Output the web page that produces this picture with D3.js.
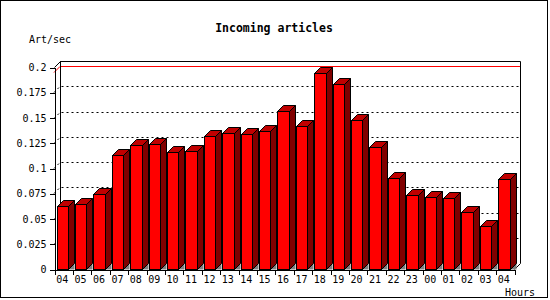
<!DOCTYPE html>
<html>
<head>
<meta charset="utf-8">
<script src="https://cdn.jsdelivr.net/npm/d3@7"></script>
<style>
  html, body { margin: 0; padding: 0; background: #fff; }
  svg { display: block; }
  text { font-family: "DejaVu Sans Mono", "Liberation Mono", monospace; fill: #000; }
</style>
</head>
<body>
<svg id="chart" width="550" height="300"></svg>
<script>
// ---- data ----
const hours = ["04","05","06","07","08","09","10","11","12","13","14","15","16","17","18","19","20","21","22","23","00","01","02","03","04"];
const rates = [0.0627,0.0646,0.0745,0.1127,0.1226,0.1236,0.1157,0.1167,0.1315,0.1345,0.1335,0.1365,0.1560,0.1414,0.1938,0.1832,0.1473,0.1206,0.0903,0.0732,0.0712,0.0703,0.0564,0.0426,0.0890];
const yTickValues = [0,0.025,0.05,0.075,0.1,0.125,0.15,0.175,0.2];
const yTickLabels = ["0","0.025","0.05","0.075","0.1","0.125","0.15","0.175","0.2"];
const limitValue = [0.195];
const chartTitle = "Incoming articles";
const yTitle = "Art/sec";
const xTitle = "Hours";

(function () {
// ---- layout ----
const svg = d3.select("#chart");
const pLeft = 54, pRight = 514, pTop = 67, pBottom = 269, depth = 6;
const idx = d3.range(hours.length);

const x = d3.scaleBand().domain(idx).range([pLeft, pRight]).paddingInner(0).paddingOuter(0);
const xLin = d3.scaleLinear().domain([0, hours.length]).range([pLeft, pRight]);
const y = d3.scaleLinear().domain([0, 0.2]).range([pBottom, pTop]);

svg.append("rect").attr("x",0.5).attr("y",0.5).attr("width",547).attr("height",297)
  .attr("fill","#fff").attr("stroke","#000");

const bx0 = pLeft + depth, bx1 = pRight + depth;
const byTop = y(0.2) - depth, byBot = y(0) - depth;

// grid lines (dotted) on side wall + back wall
const gridVals = yTickValues.filter(v => v > 0 && v < 0.2);
gridVals.forEach(v => {
  const yy = Math.round(y(v)) + 0.5;
  svg.append("path")
    .attr("d", `M${pLeft},${yy}L${pLeft+depth},${yy-depth}L${bx1},${yy-depth}`)
    .attr("fill","none").attr("stroke","#000").attr("stroke-dasharray","2,3");
});

// limit line (red)
limitValue.forEach(v => {
  const yy = Math.round(y(v)) + 0.5;
  svg.append("path")
    .attr("d", `M${pLeft},${yy}L${pLeft+depth},${yy-depth}L${bx1},${yy-depth}`)
    .attr("fill","none").attr("stroke","#ff0000");
});

// frame lines
svg.append("path")
  .attr("d", `M${pLeft+0.5},${Math.round(y(0.2))+0.5}L${bx0+0.5},${Math.round(byTop)+0.5}L${bx1+0.5},${Math.round(byTop)+0.5}L${bx1+0.5},${Math.round(byBot)+0.5}L${pRight+0.5},${Math.round(y(0))+0.5}`)
  .attr("fill","none").attr("stroke","#000");
svg.append("line")
  .attr("x1",bx0+0.5).attr("x2",bx0+0.5).attr("y1",Math.round(byTop)).attr("y2",Math.round(byBot))
  .attr("stroke","#000");

// bars
const fw = 11.5;
const bars = svg.append("g").attr("stroke","#000").attr("stroke-width",1).attr("stroke-linejoin","miter");
idx.forEach(i => {
  const x0 = Math.round(x(i) + 2.5) + 0.5;
  const x1 = Math.round(x(i) + 2.5 + fw) + 0.5;
  const yt = Math.round(y(rates[i])) + 0.5;
  const y0 = Math.round(y(0)) + 0.5;
  bars.append("path").attr("d", `M${x1},${y0}L${x1+depth},${y0-depth}L${x1+depth},${y0}Z`)
    .attr("fill","#808080").attr("stroke","none");
  bars.append("path").attr("d", `M${x1},${yt}L${x1+depth},${yt-depth}L${x1+depth},${y0-depth}L${x1},${y0}Z`)
    .attr("fill","#800000");
  bars.append("path").attr("d", `M${x0},${yt}L${x0+depth},${yt-depth}L${x1+depth},${yt-depth}L${x1},${yt}Z`)
    .attr("fill","#c00000");
  bars.append("rect").attr("x",x0).attr("y",yt).attr("width",x1-x0).attr("height",y0-yt)
    .attr("fill","#ff0000").attr("shape-rendering","crispEdges");
});

// y axis
const yAxis = d3.axisLeft(y).tickValues(yTickValues)
  .tickFormat((d,i) => yTickLabels[i]).tickSize(5).tickSizeOuter(0).tickPadding(3);
const ya = svg.append("g").attr("transform",`translate(${pLeft+0.5},0.5)`).call(yAxis);
ya.selectAll("text").style("font-size","10px");
ya.attr("shape-rendering","crispEdges");

// x axis ticks at boundaries
const xTickAxis = d3.axisBottom(xLin).tickValues(d3.range(0, hours.length + 1))
  .tickFormat("").tickSize(5).tickSizeOuter(0);
svg.append("g").attr("transform",`translate(0.5,${pBottom+0.5})`).attr("shape-rendering","crispEdges").call(xTickAxis);

// x labels
const xAxis = d3.axisBottom(x).tickFormat(i => hours[i]).tickSize(0).tickPadding(7);
const xa = svg.append("g").attr("transform",`translate(-1,${pBottom})`).call(xAxis);
xa.select(".domain").remove();
xa.selectAll("text").style("font-size","10px");

// titles
svg.append("text").attr("x",274).attr("y",32).attr("text-anchor","middle")
  .style("font-size","11.5px").style("font-weight","bold").text(chartTitle);
svg.append("text").attr("x",29).attr("y",43).style("font-size","10px").text(yTitle);
svg.append("text").attr("x",505).attr("y",296).style("font-size","10px").text(xTitle);
})();
</script>
</body>
</html>
